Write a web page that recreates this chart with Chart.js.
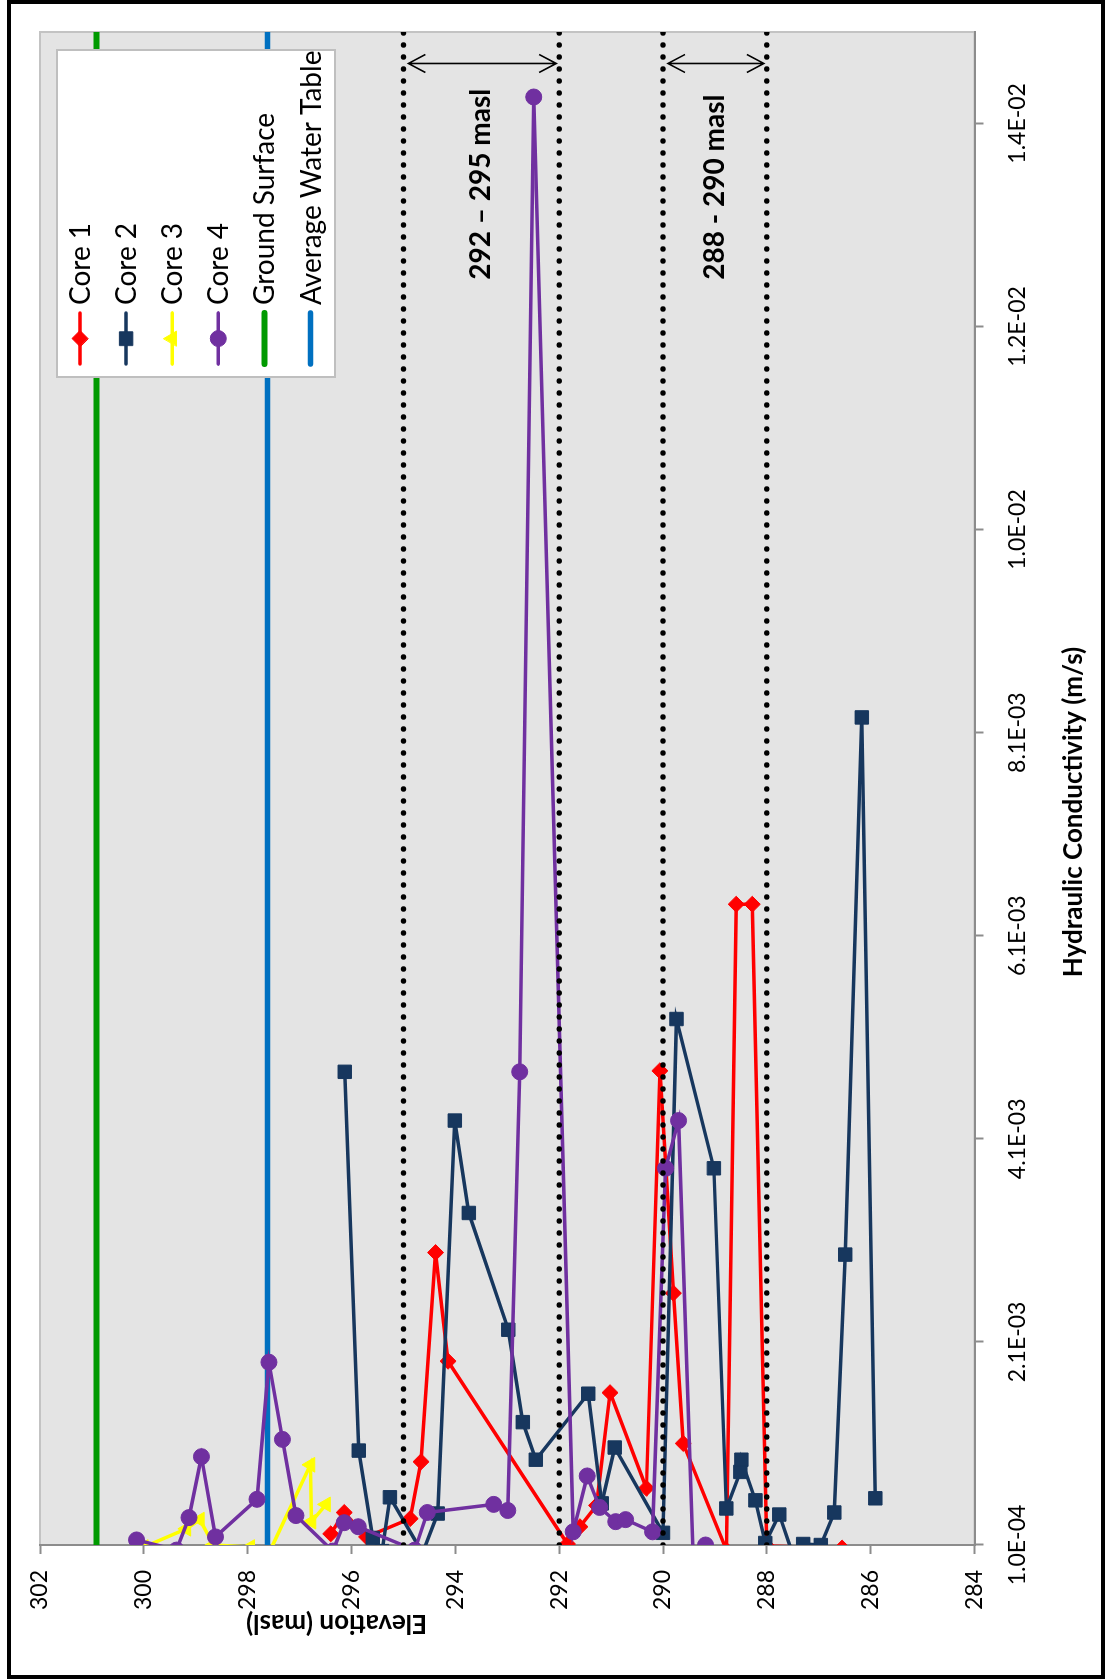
<!DOCTYPE html>
<html>
<head>
<meta charset="utf-8">
<title>Hydraulic Conductivity vs Elevation</title>
<script src="https://cdn.jsdelivr.net/npm/chart.js"></script>
<style>
  html, body { margin: 0; padding: 0; background: #fff; }
  body { width: 1105px; height: 1679px; position: relative; overflow: hidden; }
  /* the chart is laid out landscape and turned a quarter turn to stand upright */
  #holder { position: absolute; left: 0; top: 0; width: 1679px; height: 1105px;
            transform-origin: 0 0; transform: translate(0, 1679px) rotate(-90deg); }
  #holder canvas { display: block; }
  #frame { position: absolute; left: 7px; top: 0; width: 1090px; height: 1671px;
           border: 4px solid #000; z-index: 2; pointer-events: none; }
</style>
</head>
<body>
<div id="holder"><canvas id="chart" width="1679" height="1105"></canvas></div>
<div id="frame"></div>
<script>
// Elevation (masl) and hydraulic conductivity (m/s) for each core, listed top to bottom
const core1Elev = [296.40, 296.14, 295.71, 294.87, 294.66, 294.38, 294.14, 291.84, 291.60, 291.28,
                   291.02, 290.32, 290.06, 289.80, 289.61, 288.78, 288.59, 288.28, 288.00, 286.55];
const core1K    = [0.00021, 0.00042, 0.00018, 0.00036, 0.00092, 0.00298, 0.00191, 0.00011, 0.00028, 0.00049,
                   0.00160, 0.00066, 0.00477, 0.00258, 0.00110, 0.00005, 0.00641, 0.00641, 0.00009, 0.00007];

const core2Elev = [296.13, 295.86, 295.59, 295.41, 295.26, 294.63, 294.34, 294.01, 293.74, 292.98,
                   292.70, 292.45, 291.44, 291.18, 290.93, 290.00, 289.74, 289.02, 288.78, 288.51,
                   288.49, 288.22, 288.03, 287.76, 287.50, 287.30, 286.96, 286.70, 286.49, 286.17, 285.91];
const core2K    = [0.00476, 0.00103, 0.00017, 0.00004, 0.00057, 0.00002, 0.00041, 0.00428, 0.00337, 0.00222,
                   0.00131, 0.00094, 0.00159, 0.00051, 0.00106, 0.00022, 0.00528, 0.00381, 0.00046, 0.00082,
                   0.00094, 0.00054, 0.00012, 0.00040, 0.00001, 0.00011, 0.00010, 0.00042, 0.00296, 0.00825, 0.00056];

const core3Elev = [300.00, 299.18, 298.92, 298.66, 297.95, 297.60, 296.79, 296.77, 296.49];
const core3K    = [0.00008, 0.00026, 0.00035, 0.00010, 0.00008, 0.00001, 0.00089, 0.00033, 0.00050];

const core4Elev = [300.14, 299.37, 299.13, 298.89, 298.62, 297.82, 297.59, 297.33, 297.07, 296.36,
                   296.14, 295.87, 294.78, 294.54, 293.26, 292.99, 292.76, 292.49, 291.73, 291.46,
                   291.22, 290.91, 290.72, 290.20, 289.95, 289.70, 289.42, 289.18];
const core4K    = [0.00015, 0.00005, 0.00037, 0.00097, 0.00018, 0.00055, 0.00190, 0.00114, 0.00039, 0.00004,
                   0.00032, 0.00028, 0.00005, 0.00042, 0.00050, 0.00044, 0.00476, 0.01436, 0.00023, 0.00078,
                   0.00047, 0.00033, 0.00035, 0.00023, 0.00381, 0.00428, 0.00002, 0.00010];

// Reference levels (masl)
const groundSurfaceElev = 300.91;
const waterTableElev = 297.62;

// Zone boundaries drawn as dotted lines, and the two bracketed zones
const zoneBoundaries = [295, 292, 290, 288];
const zoneTop    = [295, 290];
const zoneBottom = [292, 288];
const zoneLabels = ['292 \u2013 295 masl', '288 - 290 masl'];

// Axis ranges and tick labels
const kRange = [0.0001, 0.015];
const kTicks = [0.0001, 0.0021, 0.0041, 0.0061, 0.0081, 0.0101, 0.0121, 0.0141];
const kTickLabels = ['1.0E-04', '2.1E-03', '4.1E-03', '6.1E-03', '8.1E-03', '1.0E-02', '1.2E-02', '1.4E-02'];
const elevRange = [284, 302];

Chart.defaults.font.family = 'Lato, "Open Sans", sans-serif';
Chart.defaults.color = '#000';

const toPoints = (elev, k) => elev.map((e, i) => ({ x: k[i], y: e }));

const AXIS_GREY = '#8C8C8C';

const coreStyle = (label, color, pointStyle, radius, order) => ({
  label, borderColor: color, backgroundColor: color,
  pointBackgroundColor: color, pointBorderColor: color,
  pointStyle, pointRadius: radius, pointBorderWidth: 1, pointHoverRadius: radius,
  borderWidth: 3.5, showLine: true, tension: 0, order, inLegend: true
});

const datasets = [
  Object.assign({ data: toPoints(core1Elev, core1K) }, coreStyle('Core 1', '#FF0000', 'rectRot', 8, 4)),
  Object.assign({ data: toPoints(core2Elev, core2K) }, coreStyle('Core 2', '#17375E', 'rect', 9.5, 3)),
  Object.assign({ data: toPoints(core3Elev, core3K) }, coreStyle('Core 3', '#FFFF00', 'triangle', 8.5, 2)),
  Object.assign({ data: toPoints(core4Elev, core4K) }, coreStyle('Core 4', '#7030A0', 'circle', 8, 1)),
  { label: 'Ground Surface', data: kRange.map(k => ({ x: k, y: groundSurfaceElev })),
    borderColor: '#009A00', backgroundColor: '#009A00', borderWidth: 6, pointRadius: 0,
    showLine: true, order: 5, inLegend: true },
  { label: 'Average Water Table', data: kRange.map(k => ({ x: k, y: waterTableElev })),
    borderColor: '#0070C0', backgroundColor: '#0070C0', borderWidth: 5.5, pointRadius: 0,
    showLine: true, order: 6, inLegend: true }
];

zoneBoundaries.forEach(b => datasets.push({
  label: b + ' masl boundary', data: kRange.map(k => ({ x: k, y: b })),
  borderColor: '#000', borderWidth: 5.5, borderDash: [0, 12], borderCapStyle: 'round',
  pointRadius: 0, showLine: true, order: 0, inLegend: false
}));

// Grey plot area with a light border
const plotBackground = {
  id: 'plotBackground',
  beforeDraw(chart) {
    const { ctx, chartArea: a } = chart;
    ctx.save();
    ctx.fillStyle = '#E4E4E4';
    ctx.fillRect(a.left, a.top, a.right - a.left, a.bottom - a.top);
    ctx.strokeStyle = '#C3C3C3';
    ctx.lineWidth = 2;
    ctx.strokeRect(a.left, a.top, a.right - a.left, a.bottom - a.top);
    ctx.restore();
  }
};

// Double-headed arrows and labels spanning each zone
const zoneMarkers = {
  id: 'zoneMarkers',
  afterDatasetsDraw(chart) {
    const { ctx, scales: { x, y } } = chart;
    const arrowU = x.getPixelForValue(0.01469);
    const labelU = x.getPixelForValue(0.01256);
    ctx.save();
    ctx.strokeStyle = '#000';
    ctx.fillStyle = '#000';
    ctx.lineWidth = 1.6;
    zoneTop.forEach((top, i) => {
      const v1 = y.getPixelForValue(top) + 5;
      const v2 = y.getPixelForValue(zoneBottom[i]) - 3;
      ctx.beginPath();
      ctx.moveTo(arrowU, v1); ctx.lineTo(arrowU, v2);
      ctx.moveTo(arrowU - 9, v1 + 17); ctx.lineTo(arrowU, v1); ctx.lineTo(arrowU + 9, v1 + 17);
      ctx.moveTo(arrowU - 9, v2 - 17); ctx.lineTo(arrowU, v2); ctx.lineTo(arrowU + 9, v2 - 17);
      ctx.stroke();
      ctx.font = 'bold 28px Lato, sans-serif';
      ctx.textAlign = 'left';
      ctx.textBaseline = 'middle';
      ctx.fillText(zoneLabels[i], labelU, y.getPixelForValue((top + zoneBottom[i]) / 2));
    });
    ctx.restore();
  }
};

function drawMarker(ctx, style, radius, cx, cy) {
  if (Chart.helpers && Chart.helpers.drawPoint) {
    Chart.helpers.drawPoint(ctx, { pointStyle: style, radius, rotation: 0, borderWidth: 1 }, cx, cy);
  }
}

// Boxed legend inside the plot area: line sample with marker, then label
const boxLegend = {
  id: 'boxLegend',
  afterDraw(chart) {
    const { ctx, chartArea: a } = chart;
    const items = chart.data.datasets.filter(d => d.inLegend);
    const bx = a.right - 345, by = a.top + 17, bw = 327, bh = 278;
    ctx.save();
    ctx.fillStyle = '#FFFFFF';
    ctx.fillRect(bx, by, bw, bh);
    ctx.strokeStyle = '#BFBFBF';
    ctx.lineWidth = 2;
    ctx.strokeRect(bx, by, bw, bh);
    items.forEach((d, i) => {
      const rowY = by + 23 + i * 46.1;
      ctx.strokeStyle = d.borderColor;
      ctx.fillStyle = d.borderColor;
      ctx.lineWidth = d.borderWidth;
      ctx.lineCap = 'round';
      ctx.beginPath();
      ctx.moveTo(bx + 13, rowY);
      ctx.lineTo(bx + 64, rowY);
      ctx.stroke();
      if (d.pointRadius > 0) {
        ctx.lineWidth = 1;
        drawMarker(ctx, d.pointStyle, d.pointRadius, bx + 38.5, rowY);
      }
      ctx.fillStyle = '#000';
      ctx.font = '28px Lato, sans-serif';
      ctx.textAlign = 'left';
      ctx.textBaseline = 'middle';
      ctx.fillText(d.label, bx + 72, rowY + 1);
    });
    ctx.restore();
  }
};

// Axis titles
const axisTitles = {
  id: 'axisTitles',
  afterDraw(chart) {
    const { ctx } = chart;
    ctx.save();
    ctx.fillStyle = '#000';
    ctx.font = 'bold 26px Lato, sans-serif';
    ctx.textAlign = 'center';
    ctx.textBaseline = 'middle';
    ctx.fillText('Hydraulic Conductivity (m/s)', 867, 1074);
    ctx.translate(56, 336.5);
    ctx.rotate(-Math.PI / 2);
    ctx.fillText('Elevation (masl)', 0, 0);
    ctx.restore();
  }
};

new Chart(document.getElementById('chart'), {
  type: 'scatter',
  data: { datasets },
  plugins: [plotBackground, zoneMarkers, boxLegend, axisTitles],
  options: {
    responsive: false,
    animation: false,
    devicePixelRatio: 1,
    layout: { padding: { top: 40, right: 32, bottom: 0, left: 0 } },
    plugins: { legend: { display: false }, tooltip: { enabled: false } },
    elements: { line: { tension: 0 } },
    scales: {
      x: {
        type: 'linear', position: 'bottom', min: kRange[0], max: kRange[1],
        afterBuildTicks: s => { s.ticks = kTicks.map(v => ({ value: v })); },
        afterFit: s => { s.height = 130.5; },
        ticks: { callback: (v, i) => kTickLabels[i], autoSkip: false, maxRotation: 0, minRotation: 0,
                 padding: 20, color: '#000', font: { size: 23 } },
        grid: { drawOnChartArea: false, drawTicks: true, tickLength: 9, tickWidth: 2,
                tickColor: AXIS_GREY, color: AXIS_GREY },
        border: { display: true, color: AXIS_GREY, width: 2 }
      },
      y: {
        type: 'linear', position: 'left', min: elevRange[0], max: elevRange[1],
        afterFit: s => { s.width = 134; },
        ticks: { stepSize: 2, padding: 16, color: '#000', font: { size: 23 } },
        grid: { drawOnChartArea: false, drawTicks: true, tickLength: 9, tickWidth: 2,
                tickColor: AXIS_GREY, color: AXIS_GREY },
        border: { display: true, color: AXIS_GREY, width: 2 }
      }
    }
  }
});
</script>
</body>
</html>
